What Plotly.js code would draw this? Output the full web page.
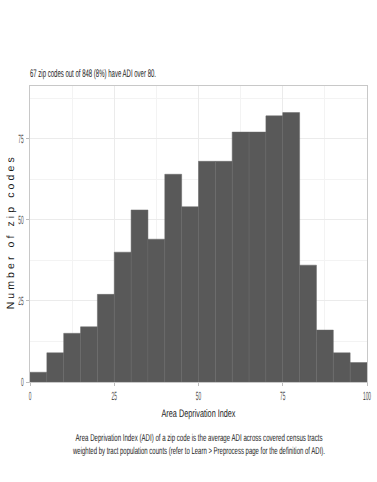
<!DOCTYPE html>
<html>
<head>
<meta charset="utf-8">
<script src="https://cdn.plot.ly/plotly-3.0.1.min.js"></script>
<style>
    body { margin: 0; background: white; }
    #chart { width: 377px; height: 482px; }
    #chart text { text-rendering: geometricPrecision; }
</style>
</head>
<body>
<div id="chart"></div>
<script>
// ADI histogram, bins of width 5 from 0 to 100
let binStarts = [0, 5, 10, 15, 20, 25, 30, 35, 40, 45, 50, 55, 60, 65, 70, 75, 80, 85, 90, 95]
let zipCounts = [3, 9, 15, 17, 27, 40, 53, 44, 64, 54, 68, 68, 77, 77, 82, 83, 36, 16, 9, 6]
let xTicks = [0, 25, 50, 75, 100]
let yTicks = [0, 25, 50, 75]

let sans = '"Liberation Sans", Arial, sans-serif'

let trace = {
    type: 'bar',
    x: binStarts,
    y: zipCounts,
    width: 5,
    offset: 0,
    marker: {
        color: '#595959',
        line: { color: '#666666', width: 0.5 }
    },
    hoverinfo: 'y'
}

let axisCommon = {
    ticks: 'outside',
    ticklen: 3,
    tickcolor: '#bdbdbd',
    tickfont: { family: sans, size: 12, color: '#4d4d4d' },
    ticklabeloverflow: 'allow',
    showgrid: true,
    gridcolor: '#ebebeb',
    gridwidth: 1,
    minor: { dtick: 12.5, tick0: 0, showgrid: true, gridcolor: '#f3f3f3', gridwidth: 1 },
    zeroline: false,
    showline: true,
    linecolor: '#c8c8c8',
    mirror: true,
    fixedrange: true
}

let layout = {
    width: 377,
    height: 482,
    margin: { t: 86, b: 100, l: 30, r: 10 },
    paper_bgcolor: 'white',
    plot_bgcolor: 'white',
    showlegend: false,
    bargap: 0,
    title: {
        text: '67 zip codes out of 848 (8%) have ADI over 80.',
        font: { family: sans, size: 11, color: '#1a1a1a' },
        xref: 'paper',
        x: 0,
        xanchor: 'left',
        yref: 'container',
        y: 1 - 73 / 482,
        yanchor: 'middle'
    },
    xaxis: {
        ...axisCommon,
        range: [0, 100],
        tickvals: xTicks,
        title: {
            text: 'Area Deprivation Index',
            font: { family: sans, size: 11, color: '#1a1a1a' },
            standoff: 6
        }
    },
    yaxis: {
        ...axisCommon,
        range: [0, 91.2],
        tickvals: yTicks
    },
    annotations: [
        {
            // y axis title, placed by hand so it sits left of the tick labels
            text: 'Number of zip codes',
            xref: 'paper', yref: 'paper',
            x: -20.5 / 337, y: 0.5,
            xanchor: 'center', yanchor: 'middle',
            textangle: -90,
            showarrow: false,
            font: { family: sans, size: 10.5, color: '#1a1a1a' }
        },
        {
            text: 'Area Deprivation Index (ADI) of a zip code is the average ADI across covered census tracts',
            xref: 'paper', yref: 'paper',
            x: 0.5, y: -55 / 296,
            xanchor: 'center', yanchor: 'middle',
            showarrow: false,
            font: { family: sans, size: 10, color: '#1a1a1a' }
        },
        {
            text: 'weighted by tract population counts (refer to Learn > Preprocess page for the definition of ADI).',
            xref: 'paper', yref: 'paper',
            x: 0.5, y: -68 / 296,
            xanchor: 'center', yanchor: 'middle',
            showarrow: false,
            font: { family: sans, size: 10, color: '#1a1a1a' }
        }
    ]
}

// horizontal squeeze of a rendered svg text around its own x, so the anchor stays put
function squeezeX(el, ratio) {
    let cx = parseFloat(el.getAttribute('x')) || 0
    let old = el.getAttribute('transform') || ''
    el.setAttribute('transform', `${old} translate(${cx},0) scale(${ratio},1) translate(${-cx},0)`)
}

function squeezeTo(el, width) {
    squeezeX(el, width / el.getComputedTextLength())
}

Plotly.newPlot('chart', [trace], layout, { displayModeBar: false, staticPlot: true })
    .then(() => {
        // the reference uses a very condensed face
        let q = s => document.querySelectorAll('#chart ' + s)
        q('.xtick text').forEach(el => squeezeX(el, 0.4))
        q('.ytick text').forEach(el => squeezeX(el, 0.4))
        q('.gtitle').forEach(el => squeezeTo(el, 126))
        q('.g-xtitle text').forEach(el => squeezeTo(el, 74))
        let notes = q('.annotation-text')
        notes[0].setAttribute('textLength', 152)
        notes[0].setAttribute('lengthAdjust', 'spacing')
        squeezeTo(notes[1], 247)
        squeezeTo(notes[2], 252)
    })
</script>
</body>
</html>
